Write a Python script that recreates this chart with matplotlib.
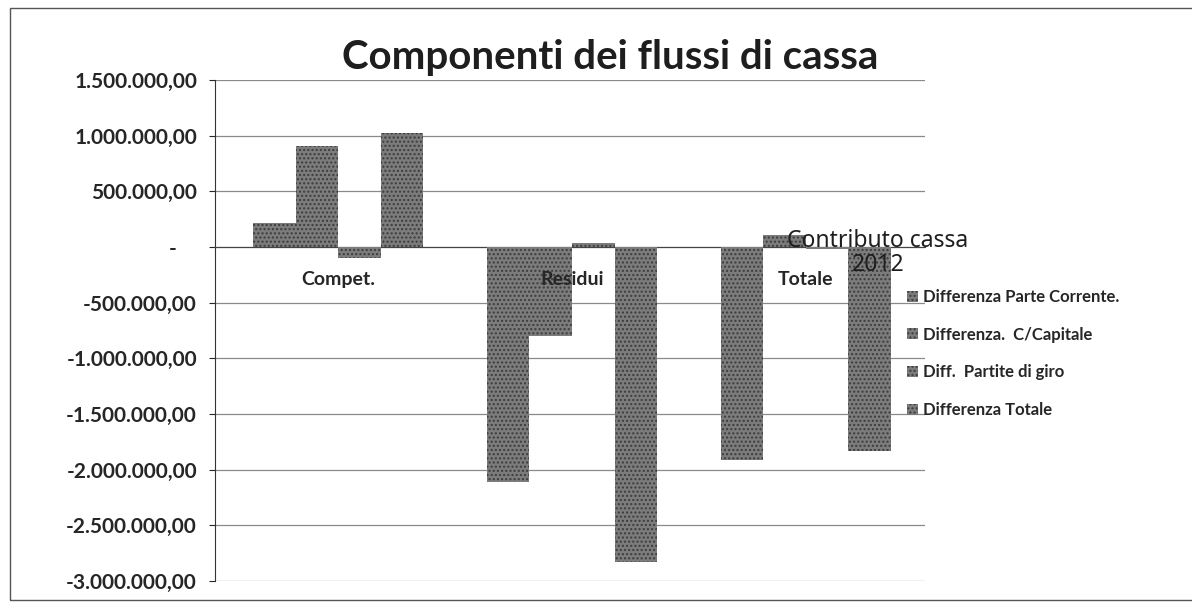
import matplotlib
matplotlib.use("Agg")
import numpy as np
import matplotlib.pyplot as plt
from matplotlib.patches import Patch, Rectangle
from matplotlib.ticker import FuncFormatter

# data
categories = ["Compet.", "Residui", "Totale"]
series_names = ["Differenza Parte Corrente.", "Differenza.  C/Capitale",
                "Diff.  Partite di giro", "Differenza Totale"]
diff_corrente = [220000, -2110000, -1910000]
diff_capitale = [910000, -800000, 110000]
diff_giro = [-100000, 40000, -20000]
diff_totale = [1020000, -2830000, -1830000]
y_ticks = [1500000, 1000000, 500000, 0, -500000, -1000000, -1500000,
           -2000000, -2500000, -3000000]

BAR_FACE = "#7c7c7c"
BAR_EDGE = "#3c3c3c"
GRID = "#8a8a8a"
TEXT = "#262626"
FONT = ["Lato", "DejaVu Sans"]
W, H = 1192, 615


def euro_fmt(v, pos=None):
    if abs(v) < 1:
        return "-    "
    s = "{:,.2f}".format(v)
    return s.replace(",", "X").replace(".", ",").replace("X", ".")


def plotFlussiCassa():
    fig = plt.figure(figsize=(W / 100, H / 100), dpi=100)
    ax = fig.add_axes([0.1804, 0.0553, 0.5956, 0.8146])

    x = np.arange(len(categories))
    w = 0.182
    all_series = [diff_corrente, diff_capitale, diff_giro, diff_totale]
    for i, vals in enumerate(all_series):
        ax.bar(x + (i - 1.5) * w, vals, width=w, color=BAR_FACE,
               edgecolor=BAR_EDGE, hatch="....", linewidth=0, zorder=3)

    ax.set_xlim(-0.526, 2.509)
    ax.set_ylim(-3000000, 1500000)
    ax.set_yticks(y_ticks)
    ax.yaxis.set_major_formatter(FuncFormatter(euro_fmt))
    ax.yaxis.grid(True, color=GRID, linewidth=0.9, zorder=0)
    ax.tick_params(axis="y", direction="out", length=4, width=0.8,
                   pad=9, colors=TEXT, labelsize=15)
    for lab in ax.get_yticklabels():
        lab.set_fontfamily(FONT)
        lab.set_fontweight("bold")

    # category axis sits on zero
    ax.spines["bottom"].set_position(("data", 0))
    ax.spines["bottom"].set_color("#444444")
    ax.spines["top"].set_visible(False)
    ax.spines["right"].set_visible(False)
    ax.spines["left"].set_color("#333333")
    ax.set_xticks([])
    for xi, cat in zip(x, categories):
        ax.annotate(cat, (xi, 0), xytext=(0, -32), textcoords="offset pixels",
                    ha="center", va="center", fontsize=14, color=TEXT,
                    fontweight="bold", fontfamily=FONT, zorder=6)

    fig.text(0.512, 1 - 58 / H, "Componenti dei flussi di cassa",
             ha="center", va="center", fontsize=29, fontweight="bold",
             color="#1e1e1e", fontfamily=FONT)

    # legend title, split in two lines as in the original
    fig.text(878 / W, 1 - 241 / H, "Contributo cassa",
             ha="center", va="center", fontsize=16.5, color="#1e1e1e",
             fontfamily=["Noto Sans", "DejaVu Sans"], zorder=6)
    fig.text(878 / W, 1 - 265 / H, "2012",
             ha="center", va="center", fontsize=16.5, color="#1e1e1e",
             fontfamily=["Noto Sans", "DejaVu Sans"], zorder=6)

    handles = [Patch(facecolor=BAR_FACE, edgecolor=BAR_EDGE, hatch="....",
                     linewidth=0) for _ in series_names]
    leg = fig.legend(handles, series_names, loc="upper left",
                     bbox_to_anchor=(892 / W, 1 - 274 / H),
                     frameon=False, handlelength=0.65, handleheight=0.65,
                     handletextpad=0.3, labelspacing=1.3,
                     prop={"family": FONT, "weight": "bold", "size": 12})
    for t in leg.get_texts():
        t.set_color(TEXT)

    # outer chart border
    fig.patches.append(Rectangle((10 / W, 15 / H), 1.2, 592 / H,
                                 transform=fig.transFigure, fill=False,
                                 edgecolor="#555555", linewidth=1.0))

    fig.savefig("out.png", dpi=100)


def main():
    plotFlussiCassa()


if __name__ == "__main__":
    main()
